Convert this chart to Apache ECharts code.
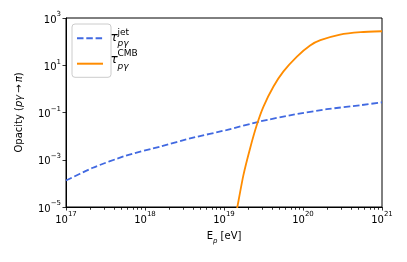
<!DOCTYPE html>
<html>
<head>
<meta charset="utf-8">
<script src="https://cdn.jsdelivr.net/npm/echarts@6/dist/echarts.min.js"></script>
<style>
html,body{margin:0;padding:0;background:#fff;}
#c{width:407px;height:262px;}
</style>
</head>
<body>
<div id="c"></div>
<script>
// energies (eV) and opacities
const jetE   = [1e17, 2.19e17, 5.75e17, 1.55e18, 4.07e18, 1.07e19, 2.88e19, 7.59e19, 2.0e20, 5.37e20, 1e21];
const jetTau = [1.32e-4, 4.6e-4, 1.5e-3, 3.6e-3, 8.6e-3, 1.8e-2, 4.2e-2, 8.1e-2, 0.138, 0.204, 0.27];

const cmbE   = [1.35e19, 1.476e19, 1.758e19, 2.138e19, 2.6e19, 3.16e19, 4.23e19, 5.66e19, 8.38e19, 1.23e20, 1.66e20, 2.95e20, 5.37e20, 1e21];
const cmbTau = [2e-6, 1e-5, 2.19e-4, 3.02e-3, 2.95e-2, 0.178, 1.26, 5.5, 23.4, 69, 115, 200, 251, 275];

const xMin = 1e17, xMax = 1e21;
const yMin = 1e-5, yMax = 1e3;
const seriesNames = ['jet', 'CMB'];

// minor tick positions on the log x axis (2..9 per decade)
const minorX = [];
for (let d = 17; d < 21; d++) for (let m = 2; m <= 9; m++) minorX.push(m * Math.pow(10, d));

const FONT = 'DejaVu Sans';
const supFmt = (v) => {
  const e = Math.round(Math.log10(v));
  return '{b|10}{s|' + String(e).replace('-', '\u2212') + '}';
};
const tickRich = {
  b: {fontSize: 10, fontFamily: FONT, color: '#000', lineHeight: 14, verticalAlign: 'bottom'},
  s: {fontSize: 7, fontFamily: FONT, color: '#000', lineHeight: 14, verticalAlign: 'top'}
};

const legendTexts = [
  {type: 'text', left: 110.5, top: 31.5, z: 100, style: {text: 'τ', font: 'italic 12px "DejaVu Sans"', fill: '#000'}},
  {type: 'text', left: 117.5, top: 28, z: 100, style: {text: 'jet', font: '9px "DejaVu Sans"', fill: '#000'}},
  {type: 'text', left: 117.5, top: 39.5, z: 100, style: {text: 'pγ', font: 'italic 9px "DejaVu Sans"', fill: '#000'}},
  {type: 'text', left: 110.5, top: 54, z: 100, style: {text: 'τ', font: 'italic 12px "DejaVu Sans"', fill: '#000'}},
  {type: 'text', left: 117.5, top: 49.5, z: 100, style: {text: 'CMB', font: '9px "DejaVu Sans"', fill: '#000'}},
  {type: 'text', left: 117.5, top: 62, z: 100, style: {text: 'pγ', font: 'italic 9px "DejaVu Sans"', fill: '#000'}}
];

const chart = echarts.init(document.getElementById('c'), null, {renderer: 'canvas'});
const baseOption = {
  animation: false,
  backgroundColor: '#fff',
  grid: {left: 66, right: 25, top: 18, bottom: 55, show: true, borderColor: '#000', borderWidth: 1, backgroundColor: 'transparent'},
  xAxis: {
    type: 'log', logBase: 10, min: xMin, max: xMax, interval: 1,
    axisLine: {show: true, onZero: false, lineStyle: {color: '#000', width: 1}},
    axisTick: {show: true, length: 3.5, inside: false, lineStyle: {color: '#000', width: 0.8}},
    splitLine: {show: false},
    axisLabel: {margin: 4, formatter: supFmt, rich: tickRich},
    name: '{n|E}{i|p}{n| [eV]}', nameLocation: 'middle', nameGap: 24,
    nameTextStyle: {rich: {
      n: {fontSize: 10, fontFamily: FONT, color: '#000', lineHeight: 14, verticalAlign: 'top'},
      i: {fontSize: 7, fontFamily: FONT, fontStyle: 'italic', color: '#000', lineHeight: 14, verticalAlign: 'bottom'}
    }}
  },
  yAxis: {
    type: 'log', logBase: 10, min: yMin, max: yMax, interval: 2,
    axisLine: {show: true, onZero: false, lineStyle: {color: '#000', width: 1}},
    axisTick: {show: true, length: 3.5, inside: false, lineStyle: {color: '#000', width: 0.8}},
    splitLine: {show: false},
    axisLabel: {margin: 5, formatter: supFmt, rich: tickRich},
    name: '{n|Opacity (}{i|pγ}{n|\u2009→\u2009}{i|π}{n|)}', nameLocation: 'middle', nameGap: 42, nameRotate: 90,
    nameTextStyle: {rich: {
      n: {fontSize: 10, fontFamily: FONT, color: '#000'},
      i: {fontSize: 10, fontFamily: FONT, fontStyle: 'italic', color: '#000'}
    }}
  },
  legend: {
    show: true, left: 72, top: 24, orient: 'vertical',
    data: seriesNames,
    itemWidth: 26, itemHeight: 10, itemGap: 13.4,
    padding: [8.3, 3, 7.6, 4],
    backgroundColor: 'rgba(255,255,255,0.8)', borderColor: '#cccccc', borderWidth: 1, borderRadius: 3,
    itemStyle: {opacity: 0},
    formatter: () => '{w|}',
    textStyle: {rich: {w: {width: 36, height: 10}}},
    selectedMode: false
  },
  series: [
    {
      name: 'jet', type: 'line', data: jetE.map((e, i) => [e, jetTau[i]]),
      showSymbol: false, symbol: 'none', smooth: 0.2,
      lineStyle: {color: '#4169E1', width: 1.8, type: [6.5, 2.8]}, itemStyle: {color: '#4169E1'}, z: 3
    },
    {
      name: 'CMB', type: 'line', data: cmbE.map((e, i) => [e, cmbTau[i]]),
      showSymbol: false, symbol: 'none', smooth: 0.2, clip: true,
      lineStyle: {color: '#FF8C00', width: 1.8}, itemStyle: {color: '#FF8C00'}, z: 4
    }
  ]
};
chart.setOption(baseOption);

// minor x ticks placed through the chart's own x scale
const py = chart.convertToPixel({yAxisIndex: 0}, yMin);
const minorTicks = minorX.map(v => {
  const px = chart.convertToPixel({xAxisIndex: 0}, v);
  return {type: 'rect', z: 50, silent: true,
    shape: {x: Math.round(px), y: Math.round(py) + 0.5, width: 0.8, height: 2.3},
    style: {fill: '#000'}};
});
chart.setOption({graphic: {elements: legendTexts.concat(minorTicks)}});
</script>
</body>
</html>
